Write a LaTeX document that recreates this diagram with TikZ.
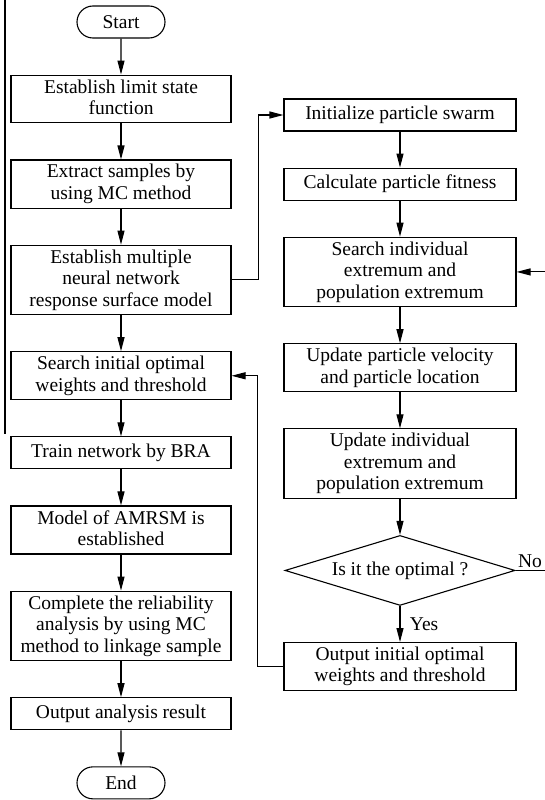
\documentclass[tikz,border=0pt]{standalone}
\usepackage{fontspec}
\setmainfont{Liberation Serif}
\usetikzlibrary{arrows.meta,positioning,shapes.geometric,shapes.misc}

\newcommand{\topstrut}{\rule{0pt}{13pt}}
\newcommand{\botstrut}{\rule[-4pt]{0pt}{4pt}}

\begin{document}
\begin{tikzpicture}[x=1pt,y=-1pt,->,>={Triangle[length=14pt,width=7pt]},
	node distance=36pt,line width=1.1pt]
	\tikzstyle{every node}=[font=\fontsize{19.5}{21.5}\selectfont]
	\tikzstyle{proc}=[draw,rectangle,align=center,inner xsep=2pt,inner ysep=4.4pt,
	  minimum height=32pt,execute at begin node=\topstrut,execute at end node=\botstrut]
	\tikzstyle{lbox}=[proc,minimum width=220pt]
	\tikzstyle{rbox}=[proc,minimum width=232pt]
	\tikzstyle{term}=[draw,rounded rectangle,minimum width=88pt,minimum height=32pt,inner sep=0pt]
	\useasboundingbox (0,0) rectangle (544,800);

	% left column
	\node[term] (start) at (121,22) {Start};
	\node[lbox] (limit)   [below=of start]  {Establish limit state\\function};
	\node[lbox] (extract) [below=of limit]  {Extract samples by\\using MC method};
	\node[lbox] (surface) [below=of extract] {Establish multiple\\neural network\\response surface model};
	\node[lbox] (weights) [below=of surface] {Search initial optimal\\weights and threshold};
	\node[lbox] (train)   [below=of weights] {Train network by BRA};
	\node[lbox] (model)   [below=of train]   {Model of AMRSM is\\established};
	\node[lbox] (reliab)  [below=of model]   {Complete the reliability\\analysis by using MC\\method to linkage sample};
	\node[lbox] (result)  [below=of reliab]  {Output analysis result};
	\node[term] (end)     [below=of result]  {End};

	% right column
	\node[rbox] (init)    at (400,115)        {Initialize particle swarm};
	\node[rbox] (fitness) [below=of init]    {Calculate particle fitness};
	\node[rbox] (search)  [below=of fitness] {Search individual\\extremum and\\population extremum};
	\node[rbox] (velocity)[below=of search]  {Update particle velocity\\and particle location};
	\node[rbox] (update)  [below=of velocity] {Update individual\\extremum and\\population extremum};
	\node[draw,diamond,aspect=3.3,minimum width=230pt,minimum height=70pt,inner sep=0pt]
	  (optimal) [below=of update] {Is it the optimal ?};
	\node[rbox] (output)  [below=of optimal] {Output initial optimal\\weights and threshold};

	\path (start) edge (limit)
	      (limit) edge (extract)
	      (extract) edge (surface)
	      (surface) edge (weights)
	      (weights) edge (train)
	      (train) edge (model)
	      (model) edge (reliab)
	      (reliab) edge (result)
	      (result) edge (end)

	      (init) edge (fitness)
	      (fitness) edge (search)
	      (search) edge (velocity)
	      (velocity) edge (update)
	      (update) edge (optimal)
	      (optimal) edge node[right,xshift=6pt] {Yes} (output);

	\draw (surface.east) -- ++(27,0) |- (init.west);
	\draw (output.west) -- ++(-26,0) |- (weights.east);
	\draw (optimal.east) -- node[pos=0,anchor=south west,inner sep=2pt] {No} ++(45,0) |- (search.east);

	\draw[-] (5,0) -- (5,434);
\end{tikzpicture}
\end{document}
